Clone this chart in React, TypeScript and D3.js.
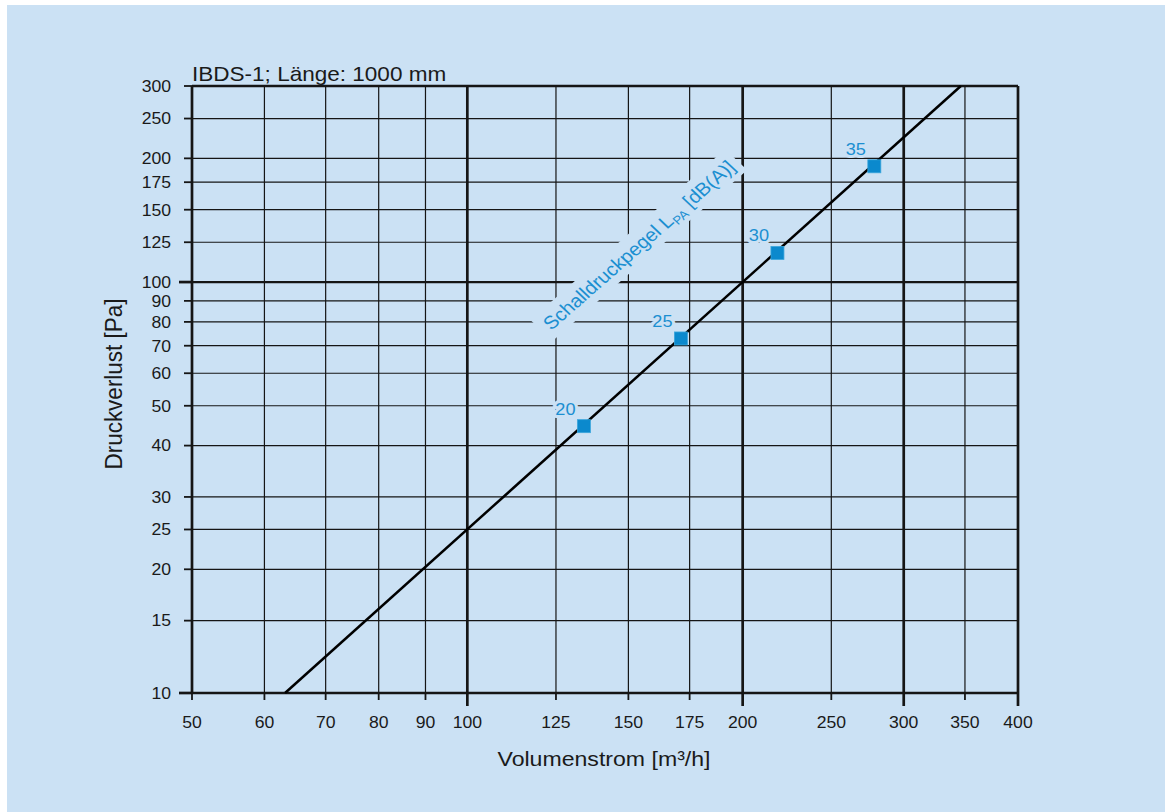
import * as React from 'react'
import {scaleLog, line} from 'd3'

const {useRef, useState, useLayoutEffect} = React

// Achsenwerte
const xTicks = [50, 60, 70, 80, 90, 100, 125, 150, 175, 200, 250, 300, 350, 400]
const yTicks = [10, 15, 20, 25, 30, 40, 50, 60, 70, 80, 90, 100, 125, 150, 175, 200, 250, 300]
const xMajor = [100, 200, 300, 400]
const yMajor = [10, 100]

// Kennlinie (Endpunkte)
const curveFlow = [63.2, 346.4]
const curvePressure = [10, 300]

// Schalldruckpegel-Punkte
const levelFlow = [134.1, 171.2, 218.3, 278.6]
const levelPressure = [44.6, 72.9, 117.7, 191.3]
const levelValues = ['20', '25', '30', '35']

// Position der schraegen Beschriftung
const labelFlow = 123.5
const labelPressure = 76

const W = 1165
const H = 812
const BG = '#cbe1f4'
const BLUE = '#1b8fd1'
const SX = 1.1
const FONT = "'Liberation Sans', Arial, sans-serif"

const margin = {left: 192, right: 1018, top: 86, bottom: 693}

function SText({x, y, rotate = 0, size, anchor = 'start', fill = '#1a1a1a', halo, children}: any) {
  return (
    <g transform={`translate(${x},${y}) scale(${SX},1)${rotate ? ` rotate(${rotate})` : ''}`}>
      <text
        fontSize={size}
        fontFamily={FONT}
        textAnchor={anchor}
        fill={fill}
        stroke={halo ? BG : 'none'}
        strokeWidth={halo ? 6 : 0}
        paintOrder="stroke"
        strokeLinejoin="round"
      >
        {children}
      </text>
    </g>
  )
}

export default function App() {
  const x = scaleLog().domain([50, 400]).range([margin.left, margin.right])
  const y = scaleLog().domain([10, 300]).range([margin.bottom, margin.top])

  const labelRef = useRef<SVGTextElement>(null)
  const [labelLen, setLabelLen] = useState(250)
  useLayoutEffect(() => {
    if (labelRef.current) setLabelLen(labelRef.current.getComputedTextLength())
  }, [])

  const curve = line<number>()
    .x((d, i) => x(curveFlow[i]))
    .y((d, i) => y(curvePressure[i]))(curvePressure)

  const thin = 1.2
  const thick = 2.7
  const sq = 13

  return (
    <svg width={W} height={H} style={{position: 'absolute', left: 0, top: 0, background: '#fff'}}>
      <rect x={7} y={5} width={W - 7} height={H - 5} fill={BG} />

      {/* Gitter */}
      <g stroke="#151515">
        {xTicks.map(t => (
          <line key={'gx' + t} x1={x(t)} x2={x(t)} y1={margin.top} y2={margin.bottom}
            strokeWidth={xMajor.includes(t) || t === 50 ? thick : thin} />
        ))}
        {yTicks.map(t => (
          <line key={'gy' + t} x1={margin.left} x2={margin.right} y1={y(t)} y2={y(t)}
            strokeWidth={t === 10 || t === 300 ? thick : t === 100 ? 2.2 : thin} />
        ))}
        {xTicks.map(t => (
          <line key={'tx' + t} x1={x(t)} x2={x(t)} y1={margin.bottom}
            y2={margin.bottom + (xMajor.includes(t) ? 13 : 7)}
            strokeWidth={xMajor.includes(t) ? thick : 1.8} />
        ))}
        {yTicks.map(t => (
          <line key={'ty' + t} y1={y(t)} y2={y(t)} x2={margin.left}
            x1={margin.left - (yMajor.includes(t) ? 13 : 8)}
            strokeWidth={yMajor.includes(t) ? thick : 1.8} />
        ))}
      </g>

      {/* Kennlinie */}
      <path d={curve || ''} fill="none" stroke="#000" strokeWidth={2.5} />

      {/* schraege Beschriftung */}
      <g transform={`translate(${x(labelFlow)},${y(labelPressure)}) scale(${SX},1) rotate(-44)`}>
        <rect x={-6} y={-21} width={labelLen + 12} height={29} fill={BG} />
        <text ref={labelRef} fontSize={18.5} fontFamily={FONT} fill={BLUE}>
          Schalldruckpegel L<tspan fontSize={12} dy={4}>PA</tspan><tspan dy={-4}> [dB(A)]</tspan>
        </text>
      </g>

      {/* Punkte */}
      {levelFlow.map((f, i) => (
        <g key={'p' + i}>
          <SText x={x(f) - 18.5} y={y(levelPressure[i]) - 11.5} size={16.5} anchor="middle" fill={BLUE} halo>
            {levelValues[i]}
          </SText>
          <rect x={x(f) - sq / 2} y={y(levelPressure[i]) - sq / 2} width={sq} height={sq}
            fill="#0b89cd" stroke="#3aa6dc" strokeWidth={0.8} />
        </g>
      ))}

      {/* Achsenbeschriftung */}
      {yTicks.map(t => (
        <SText key={'ly' + t} x={margin.left - 21} y={y(t) + 5.8} size={16} anchor="end">{t}</SText>
      ))}
      {xTicks.map(t => (
        <SText key={'lx' + t} x={x(t)} y={728} size={16} anchor="middle">{t}</SText>
      ))}

      <SText x={margin.left} y={81} size={20.5}>IBDS-1; Länge: 1000 mm</SText>
      <SText x={604} y={766} size={21} anchor="middle">Volumenstrom [m³/h]</SText>
      <SText x={122} y={384} size={22.5} anchor="middle" rotate={-90}>Druckverlust [Pa]</SText>
    </svg>
  )
}
